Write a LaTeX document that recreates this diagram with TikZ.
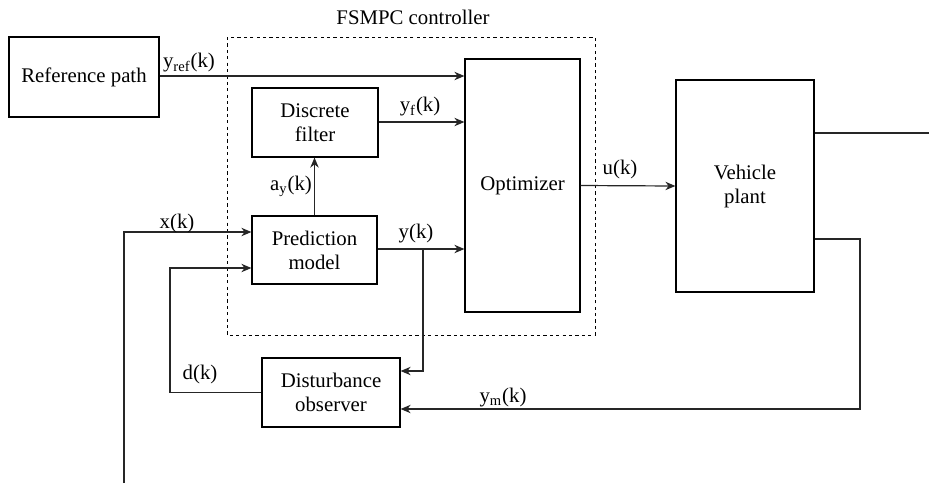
\documentclass[tikz,border=0pt]{standalone}
\usepackage{fontspec}
\setmainfont{LiberationSerif}[Extension=.ttf,UprightFont=*-Regular,BoldFont=*-Bold]
\usetikzlibrary{arrows.meta}
\newcommand{\sbs}[1]{\textsubscript{#1}}
\begin{document}
\begin{tikzpicture}[x=0.5pt,y=-0.5pt,
  font=\rmfamily\fontsize{10.4pt}{12pt}\selectfont,
  blk/.style={draw=black,line width=0.6pt,rectangle,inner sep=0pt,align=center},
  conn/.style={line width=0.6pt,draw=black!85},
  arr/.style={conn,-{Stealth[length=5pt,width=4.2pt,inset=1.6pt]}},
  lbl/.style={inner sep=0pt,anchor=center}]
\useasboundingbox (0,0) rectangle (929,483);
% dashed controller frame
\draw[line width=0.5pt,dash pattern=on 1.6pt off 1.6pt] (227,37) rectangle (595,335);
\node[lbl] (fsmpc) at (413,17) {FSMPC controller};
% blocks
\node[blk,minimum width=75pt,minimum height=40pt] (ref) at (84,77) {Reference path};
\node[blk,minimum width=63pt,minimum height=34.5pt] (filt) at (315,122.5) {Discrete\\filter};
\node[blk,minimum width=62.5pt,minimum height=34pt] (pred) at (314.5,250) {Prediction\\model};
\node[blk,minimum width=57.5pt,minimum height=126.5pt] (opt) at (522.5,185.5) {Optimizer};
\node[blk,minimum width=69pt,minimum height=106pt] (plant) at (745,186) {Vehicle\\plant};
\node[blk,minimum width=69pt,minimum height=34.5pt] (obs) at (331,392.5) {Disturbance\\observer};
% helper coordinates
\coordinate (yrefc) at (0,76);
\coordinate (yfc) at (0,122);
\coordinate (yin) at (0,371);
\coordinate (xin) at (0,232);
\coordinate (xs) at (124,483);
\coordinate (dk) at (170,268);
\coordinate (br) at (423,249);
\coordinate (pout) at (929,133);
\coordinate (ymc) at (860,239);
\coordinate (ymin) at (0,409);
% connectors
\draw[arr] (ref.east |- yrefc) -- (opt.west |- yrefc);
\draw[arr] (filt.east |- yfc) -- (opt.west |- yfc);
\draw[arr] (pred.north) -- (pred.north |- filt.south);
\draw[arr] (pred.east |- br) -- (opt.west |- br);
\draw[arr] (br) |- (obs.east |- yin);
\draw[arr] (xs) |- (pred.west |- xin);
\draw[arr] (obs.west) -| (dk) -- (dk -| pred.west);
\draw[arr] (opt.east) -- (plant.west);
\draw[conn] (pout -| plant.east) -- (pout);
\draw[arr] (plant.east |- ymc) -- (ymc) |- (obs.east |- ymin);
% labels
\node[lbl] (lyref) at (189,63) {y\sbs{ref}(k)};
\node[lbl] (lyf) at (420,107) {y\sbs{f}(k)};
\node[lbl] (lay) at (291,186) {a\sbs{y}(k)};
\node[lbl] (lx) at (177,223) {x(k)};
\node[lbl] (ly) at (416,234) {y(k)};
\node[lbl] (ld) at (200,374) {d(k)};
\node[lbl] (lu) at (620,169) {u(k)};
\node[lbl] (lym) at (503,398) {y\sbs{m}(k)};
\end{tikzpicture}
\end{document}
